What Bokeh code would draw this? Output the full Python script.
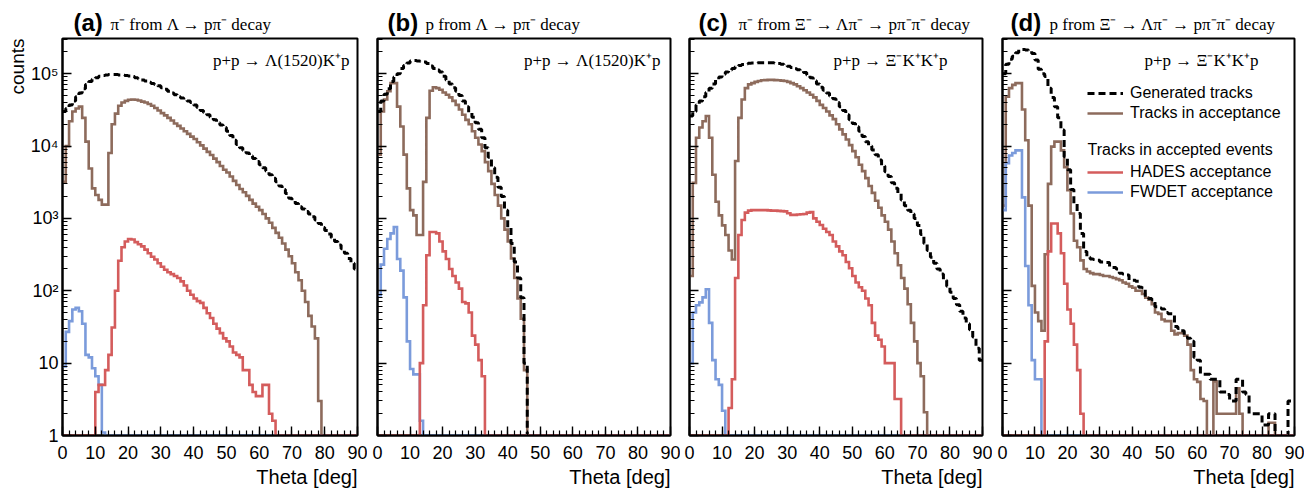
import numpy as np
from bokeh.embed import file_html
from bokeh.layouts import column, row
from bokeh.models import FixedTicker, Label, Legend, LegendItem, Range1d, Title
from bokeh.plotting import figure
from bokeh.resources import INLINE

# theta bin edges, 1 deg bins from 0 to 90
theta_edges = list(range(0, 91))

# ---- (a) pi- from Lambda -> p pi- ----
gen_a = [30000, 33000, 37000, 42000, 48000, 54000, 62000, 71000, 78000, 84000,
         88000, 92000, 94000, 96000, 97000, 97000, 97000, 96000, 95000, 94000,
         93000, 91000, 88000, 85000, 82000, 79000, 76000, 73000, 71000, 68000,
         64000, 61000, 57000, 54000, 51000, 48000, 46000, 44000, 42000, 40000,
         37000, 34000, 31000, 29000, 27000, 25000, 23000, 21000, 19500, 18000,
         16000, 14000, 12000, 10500, 9500, 8700, 8000, 7300, 6700, 6100,
         5500, 5000, 4500, 4000, 3600, 3200, 2800, 2500, 2200, 1900,
         1750, 1600, 1450, 1350, 1250, 1150, 1050, 950, 850, 750,
         680, 610, 540, 480, 430, 380, 330, 280, 240, 200]
acc_a = [3200, 10000, 22000, 30000, 33000, 35000, 24500, 11500, 4900, 2600,
         2100, 1800, 1550, 1550, 8000, 20000, 28000, 36000, 40000, 42000,
         43500, 44000, 43500, 42500, 41000, 40000, 38000, 36000, 33500, 31000,
         28500, 26500, 24500, 22500, 20500, 19000, 17500, 16000, 14700, 13500,
         12500, 11300, 10200, 9200, 8300, 7500, 6700, 6000, 5300, 4700,
         4300, 3800, 3300, 2900, 2550, 2300, 2050, 1800, 1600, 1450,
         1300, 1150, 1000, 870, 740, 630, 540, 450, 370, 300,
         240, 180, 140, 100, 70, 45, 32, 22, 3, 0,
         0, 0, 0, 0, 0, 0, 0, 0, 0, 0]
hades_a = [0, 0, 0, 0, 0, 0, 0, 0, 0, 0,
           4, 5, 5, 8, 13, 31, 100, 260, 400, 480,
           520, 510, 470, 440, 410, 370, 330, 295, 270, 240,
           215, 195, 180, 170, 160, 150, 135, 118, 100, 88,
           78, 72, 68, 58, 49, 42, 35, 30, 26, 22,
           20, 17, 14, 13, 12, 8, 8, 5, 4, 3.5,
           3.5, 5, 5, 2, 1.6, 0, 0, 0, 0, 0,
           0, 0, 0, 0, 0, 0, 0, 0, 0, 0,
           0, 0, 0, 0, 0, 0, 0, 0, 0, 0]
fwdet_a = [9, 27, 38, 55, 58, 52, 35, 13, 12, 8.5,
           6.6, 5, 1.1, 0, 0, 0, 0, 0, 0, 0,
           0, 0, 0, 0, 0, 0, 0, 0, 0, 0,
           0, 0, 0, 0, 0, 0, 0, 0, 0, 0,
           0, 0, 0, 0, 0, 0, 0, 0, 0, 0,
           0, 0, 0, 0, 0, 0, 0, 0, 0, 0,
           0, 0, 0, 0, 0, 0, 0, 0, 0, 0,
           0, 0, 0, 0, 0, 0, 0, 0, 0, 0,
           0, 0, 0, 0, 0, 0, 0, 0, 0, 0]

# ---- (b) p from Lambda -> p pi- ----
gen_b = [30000, 42000, 52000, 62000, 78000, 90000, 100000, 118000, 130000, 140000,
         150000, 152000, 150000, 148000, 145000, 138000, 128000, 118000, 112000, 105000,
         92000, 82000, 72000, 64000, 57000, 50000, 42000, 35000, 29000, 25000,
         21000, 17000, 13000, 9500, 7000, 5000, 3700, 2700, 2000, 1300,
         750, 450, 250, 150, 80, 10, 0, 0, 0, 0,
         0, 0, 0, 0, 0, 0, 0, 0, 0, 0,
         0, 0, 0, 0, 0, 0, 0, 0, 0, 0,
         0, 0, 0, 0, 0, 0, 0, 0, 0, 0,
         0, 0, 0, 0, 0, 0, 0, 0, 0, 0]
acc_b = [7600, 30000, 44000, 57000, 74000, 74000, 35000, 18600, 7600, 2600,
         1300, 1100, 590, 590, 3200, 24500, 58000, 65000, 63000, 60000,
         55000, 51000, 47000, 42000, 37000, 32000, 27000, 23000, 20000, 16000,
         13000, 10500, 8500, 6000, 4500, 3000, 2100, 1500, 1000, 700,
         480, 280, 150, 78, 41, 8, 0, 0, 0, 0,
         0, 0, 0, 0, 0, 0, 0, 0, 0, 0,
         0, 0, 0, 0, 0, 0, 0, 0, 0, 0,
         0, 0, 0, 0, 0, 0, 0, 0, 0, 0,
         0, 0, 0, 0, 0, 0, 0, 0, 0, 0]
hades_b = [0, 0, 0, 0, 0, 0, 0, 0, 0, 0,
           0, 0, 0, 10, 63, 310, 650, 650, 620, 480,
           350, 275, 200, 160, 130, 107, 70, 67, 50, 24,
           18, 11, 6.6, 0, 0, 0, 0, 0, 0, 0,
           0, 0, 0, 0, 0, 0, 0, 0, 0, 0,
           0, 0, 0, 0, 0, 0, 0, 0, 0, 0,
           0, 0, 0, 0, 0, 0, 0, 0, 0, 0,
           0, 0, 0, 0, 0, 0, 0, 0, 0, 0,
           0, 0, 0, 0, 0, 0, 0, 0, 0, 0]
fwdet_b = [87, 230, 380, 520, 620, 760, 275, 190, 81, 20,
           8.3, 7, 7, 1.6, 0, 0, 0, 0, 0, 0,
           0, 0, 0, 0, 0, 0, 0, 0, 0, 0,
           0, 0, 0, 0, 0, 0, 0, 0, 0, 0,
           0, 0, 0, 0, 0, 0, 0, 0, 0, 0,
           0, 0, 0, 0, 0, 0, 0, 0, 0, 0,
           0, 0, 0, 0, 0, 0, 0, 0, 0, 0,
           0, 0, 0, 0, 0, 0, 0, 0, 0, 0,
           0, 0, 0, 0, 0, 0, 0, 0, 0, 0]

# ---- (c) pi- from Xi- -> Lambda pi- -> p pi- pi- ----
gen_c = [26000, 30000, 37000, 42000, 48000, 55000, 63000, 72000, 82000, 90000,
         98000, 105000, 112000, 118000, 125000, 130000, 134000, 137000, 139000, 140000,
         141000, 142000, 142000, 142000, 141000, 141000, 140000, 138000, 135000, 131000,
         127000, 122000, 117000, 113000, 110000, 104000, 96000, 88000, 80000, 72000,
         65000, 59000, 54000, 49000, 45000, 40000, 35000, 31000, 27000, 23000,
         20500, 18500, 16000, 13500, 11500, 10000, 8800, 7600, 6400, 5300,
         4400, 3800, 3100, 2600, 2200, 1800, 1500, 1300, 1150, 1000,
         800, 600, 450, 360, 290, 240, 200, 170, 140, 115,
         95, 78, 64, 52, 42, 35, 29, 23, 16, 11]
acc_c = [160, 3100, 13000, 18000, 22000, 26000, 13000, 4000, 1700, 1100,
         800, 590, 360, 270, 6200, 24500, 44000, 63000, 71000, 74000,
         77000, 79000, 81000, 81500, 82000, 82000, 81500, 81000, 80000, 79000,
         77000, 74000, 71000, 67000, 63000, 59000, 55000, 51000, 47000, 42000,
         37000, 33500, 30000, 26500, 23500, 20000, 17000, 14500, 12300, 10300,
         8500, 7000, 5500, 4500, 3600, 2800, 2250, 1750, 1400, 1100,
         900, 700, 480, 330, 225, 150, 107, 65, 36, 20,
         10, 6.6, 2.1, 0, 0, 0, 0, 0, 0, 0,
         0, 0, 0, 0, 0, 0, 0, 0, 0, 0]
hades_c = [0, 0, 0, 0, 0, 0, 0, 0, 0, 0,
           0, 0, 2.4, 6, 150, 590, 950, 1200, 1280, 1300,
           1300, 1300, 1300, 1300, 1290, 1280, 1280, 1270, 1260, 1250,
           1180, 1120, 1120, 1130, 1140, 1150, 1200, 1220, 1000, 900,
           810, 720, 650, 590, 480, 410, 350, 310, 250, 205,
           160, 130, 112, 100, 78, 63, 36, 24, 21, 17,
           10, 10, 10, 3.2, 3.2, 0, 0, 0, 0, 0,
           0, 0, 0, 0, 0, 0, 0, 0, 0, 0,
           0, 0, 0, 0, 0, 0, 0, 0, 0, 0]
fwdet_c = [10, 50, 63, 69, 81, 105, 36, 11, 6, 5,
           2.2, 0, 0, 0, 0, 0, 0, 0, 0, 0,
           0, 0, 0, 0, 0, 0, 0, 0, 0, 0,
           0, 0, 0, 0, 0, 0, 0, 0, 0, 0,
           0, 0, 0, 0, 0, 0, 0, 0, 0, 0,
           0, 0, 0, 0, 0, 0, 0, 0, 0, 0,
           0, 0, 0, 0, 0, 0, 0, 0, 0, 0,
           0, 0, 0, 0, 0, 0, 0, 0, 0, 0,
           0, 0, 0, 0, 0, 0, 0, 0, 0, 0]

# ---- (d) p from Xi- -> Lambda pi- -> p pi- pi- ----
gen_d = [100000, 135000, 158000, 174000, 195000, 214000, 215000, 212000, 208000, 190000,
         155000, 115000, 100000, 91000, 63000, 47000, 35000, 24500, 16600, 7100,
         4700, 2500, 1600, 1170, 620, 350, 290, 275, 270, 265,
         250, 250, 245, 210, 210, 200, 175, 170, 165, 140,
         140, 135, 112, 110, 80, 78, 75, 60, 58, 56,
         50, 48, 48, 32, 30, 28, 23, 22, 20, 12,
         11, 7, 7, 7, 6, 6, 6, 4, 4, 3.7,
         3, 3, 6, 6, 4, 3.7, 2, 2, 2, 2,
         1.4, 1.4, 2, 2, 0, 0, 0, 0, 3, 3]
acc_d = [1500, 48000, 63000, 70000, 74000, 74000, 32000, 12000, 1500, 117,
         50, 38, 28, 320, 3000, 9800, 11500, 11500, 8700, 5100,
         2450, 1170, 490, 400, 263, 200, 185, 175, 170, 170,
         165, 160, 160, 155, 150, 145, 140, 130, 125, 115,
         110, 100, 100, 90, 80, 75, 65, 50, 48, 40,
         38, 38, 28, 25, 26, 26, 24, 18, 8, 6,
         5.5, 3.2, 3, 0, 0, 5.6, 2, 2, 2, 2,
         2, 2, 4.5, 2, 0, 0, 0, 0, 0, 0,
         0, 0, 1.5, 1.5, 0, 0, 0, 0, 0, 0]
hades_d = [0, 0, 0, 0, 0, 0, 0, 0, 0, 0,
           0, 0, 0, 20, 350, 850, 850, 620, 330, 125,
           55, 35, 18, 8, 2, 0, 0, 0, 0, 0,
           0, 0, 0, 0, 0, 0, 0, 0, 0, 0,
           0, 0, 0, 0, 0, 0, 0, 0, 0, 0,
           0, 0, 0, 0, 0, 0, 0, 0, 0, 0,
           0, 0, 0, 0, 0, 0, 0, 0, 0, 0,
           0, 0, 0, 0, 0, 0, 0, 0, 0, 0,
           0, 0, 0, 0, 0, 0, 0, 0, 0, 0]
fwdet_d = [1300, 5800, 7400, 8000, 8700, 8700, 1950, 220, 63, 11,
           6, 6, 0, 0, 0, 0, 0, 0, 0, 0,
           0, 0, 0, 0, 0, 0, 0, 0, 0, 0,
           0, 0, 0, 0, 0, 0, 0, 0, 0, 0,
           0, 0, 0, 0, 0, 0, 0, 0, 0, 0,
           0, 0, 0, 0, 0, 0, 0, 0, 0, 0,
           0, 0, 0, 0, 0, 0, 0, 0, 0, 0,
           0, 0, 0, 0, 0, 0, 0, 0, 0, 0,
           0, 0, 0, 0, 0, 0, 0, 0, 0, 0]

panel_tags = ["(a)", "(b)", "(c)", "(d)"]
decay_titles = ["π⁻ from Λ → pπ⁻ decay",
                "p from Λ → pπ⁻ decay",
                "π⁻ from Ξ⁻ → Λπ⁻ → pπ⁻π⁻ decay",
                "p from Ξ⁻ → Λπ⁻ → pπ⁻π⁻ decay"]
reactions = ["p+p → Λ(1520)K⁺p", "p+p → Λ(1520)K⁺p",
             "p+p → Ξ⁻K⁺K⁺p", "p+p → Ξ⁻K⁺K⁺p"]

ACC_COLOR = "#8d6b5c"
HADES_COLOR = "#d45c5c"
FWDET_COLOR = "#7b9bdb"
SANS = "Liberation Sans"
SERIF = "Liberation Serif"

Y_MIN, Y_MAX = 1.0, 3.06e5
HEADER_H = 36


def steps(counts):
    # empty bins sit on the bottom of the log frame, as in ROOT
    y = np.maximum(np.asarray(counts, dtype=float), Y_MIN)
    return np.append(y, y[-1])


def make_header(i, frame_w, left, tag_dx, text_dx):
    # strip above each panel with the "(x) ... decay" caption; same borders
    # as the panel below so its frame lines up with the panel frame
    h = figure(frame_width=frame_w, frame_height=HEADER_H,
               x_range=Range1d(0, 90), y_range=Range1d(0, HEADER_H),
               output_backend="svg", toolbar_location=None,
               x_axis_location=None, y_axis_location=None,
               min_border_left=left, min_border_right=10,
               min_border_top=0, min_border_bottom=0)
    h.grid.visible = False
    h.outline_line_color = None
    h.add_layout(Label(x=0, y=1, x_offset=tag_dx, text=panel_tags[i], text_font=SANS,
                       text_font_style="bold", text_font_size="24px",
                       text_color="black", text_baseline="bottom"))
    h.add_layout(Label(x=0, y=3, x_offset=text_dx, text=decay_titles[i],
                       text_font=SERIF, text_font_size="17px", text_color="black",
                       text_baseline="bottom"))
    return h


def make_panel(i, gen, acc, hades, fwdet, frame_w, left, inset):
    p = figure(frame_width=frame_w, frame_height=397,
               x_range=Range1d(0, 90), y_range=Range1d(Y_MIN, Y_MAX),
               y_axis_type="log", output_backend="svg", toolbar_location=None,
               min_border_left=left, min_border_right=10,
               min_border_top=2, min_border_bottom=46)
    p.grid.visible = False
    p.outline_line_color = "black"
    p.outline_line_width = 2

    r_acc = p.step(theta_edges, steps(acc), mode="after", line_color=ACC_COLOR,
                   line_width=2.6, line_join="miter")
    r_gen = p.step(theta_edges, steps(gen), mode="after", line_color="black",
                   line_width=3, line_dash="7 4")
    r_fw = p.step(theta_edges, steps(fwdet), mode="after", line_color=FWDET_COLOR,
                  line_width=2.6, line_join="miter")
    r_had = p.step(theta_edges, steps(hades), mode="after", line_color=HADES_COLOR,
                   line_width=2.6, line_join="miter")

    xa = p.xaxis[0]
    xa.ticker = FixedTicker(ticks=list(range(0, 91, 10)),
                            minor_ticks=list(range(0, 91, 2)))
    ya = p.yaxis[0]
    decades = [1, 10, 100, 1000, 10000, 100000]
    ya.ticker = FixedTicker(ticks=decades,
                            minor_ticks=[m * d for d in decades for m in range(2, 10)])
    for ax in (xa, ya):
        ax.axis_line_color = "black"
        ax.axis_line_width = 2
        ax.major_tick_in = 9
        ax.major_tick_out = 0
        ax.minor_tick_in = 5
        ax.minor_tick_out = 0
        ax.major_tick_line_color = "black"
        ax.minor_tick_line_color = "black"
        ax.major_tick_line_width = 1.4
        ax.minor_tick_line_width = 1.2
        ax.major_label_text_font = SANS
        ax.major_label_text_font_size = "18px"
        ax.major_label_text_color = "black"
    xa.major_label_standoff = 10
    ya.major_label_standoff = 4
    if i == 0:
        ya.major_label_overrides = {1: "1", 10: "10", 100: "10²", 1000: "10³",
                                    10000: "10⁴", 100000: "10⁵"}
        p.add_layout(Title(text="counts", align="right", text_font=SANS,
                           text_font_size="19px", text_font_style="normal",
                           text_color="black", standoff=0), "left")
    else:
        ya.major_label_overrides = {d: "" for d in decades}

    p.add_layout(Title(text="Theta [deg]", align="right", text_font=SANS,
                       text_font_size="20px", text_font_style="normal",
                       text_color="black", standoff=5), "below")

    p.add_layout(Label(x=90, y=Y_MAX, x_offset=-inset, y_offset=-22, text=reactions[i],
                       text_font=SERIF, text_font_size="17px", text_color="black",
                       text_align="right", text_baseline="middle"))

    if i == 3:
        top = Legend(items=[LegendItem(label="Generated tracks", renderers=[r_gen]),
                            LegendItem(label="Tracks in acceptance", renderers=[r_acc])],
                     location=(85, 312))
        bottom = Legend(items=[LegendItem(label="HADES acceptance", renderers=[r_had]),
                               LegendItem(label="FWDET acceptance", renderers=[r_fw])],
                        location=(85, 233))
        for leg in (top, bottom):
            leg.border_line_alpha = 0
            leg.background_fill_alpha = 0
            leg.padding = 0
            leg.margin = 0
            leg.spacing = 0
            leg.glyph_width = 36
            leg.glyph_height = 20
            leg.label_height = 20
            leg.label_standoff = 7
            leg.label_text_font = SANS
            leg.label_text_font_size = "16px"
            leg.label_text_color = "black"
            p.add_layout(leg, "center")
        p.add_layout(Label(x=0, y=Y_MAX, x_offset=85, y_offset=-111,
                           text="Tracks in accepted events", text_font=SANS,
                           text_font_size="16px", text_color="black",
                           text_baseline="middle"))
    return p


# frame width, left border, reaction inset, tag offset, caption offset
specs = [(gen_a, acc_a, hades_a, fwdet_a, 295, 62, 8, 11, 48),
         (gen_b, acc_b, hades_b, fwdet_b, 293, 10, 10, 10, 48),
         (gen_c, acc_c, hades_c, fwdet_c, 293, 9, 35, 9, 49),
         (gen_d, acc_d, hades_d, fwdet_d, 292, 10, 36, 8, 47)]

columns = []
for i, (gen, acc, hades, fwdet, fw, left, inset, tag_dx, text_dx) in enumerate(specs):
    panel = make_panel(i, gen, acc, hades, fwdet, fw, left, inset)
    header = make_header(i, fw, left, tag_dx, text_dx)
    columns.append(column(header, panel, spacing=0))

layout = row(*columns, spacing=0)
open("out.html", "w").write(file_html(layout, INLINE))
